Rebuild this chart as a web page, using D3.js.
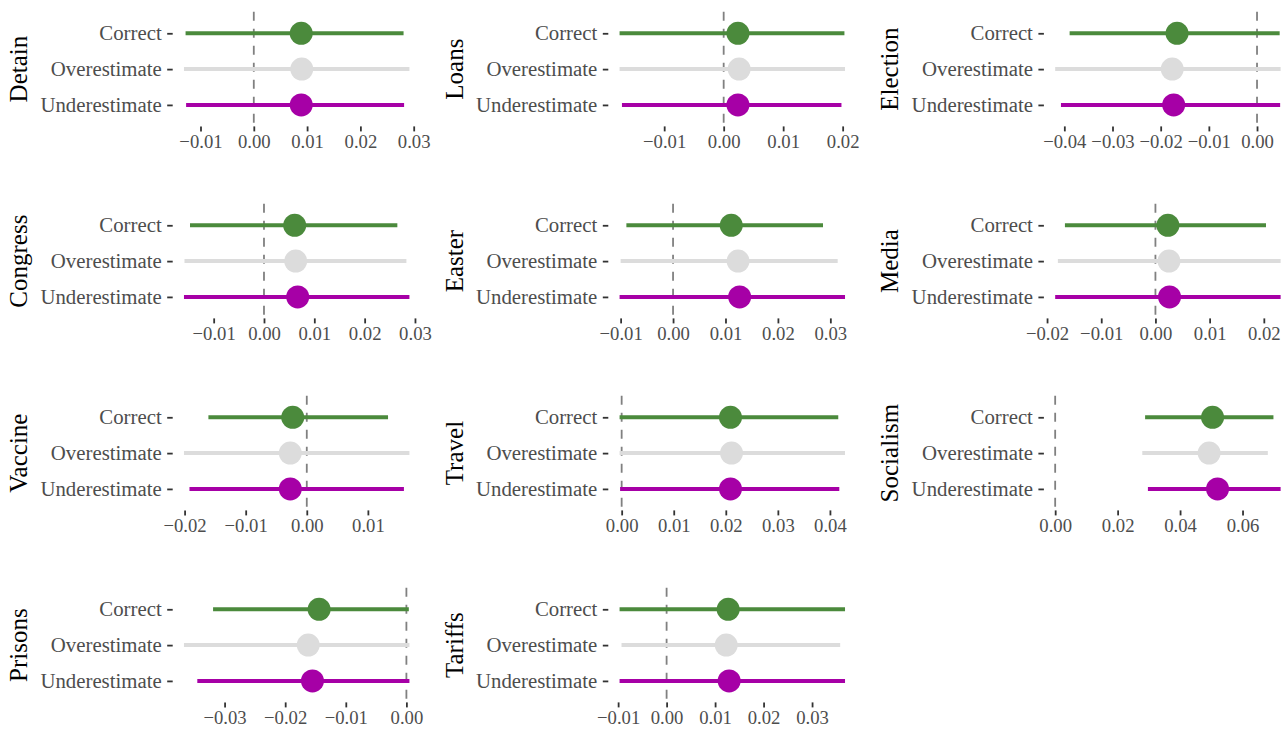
<!DOCTYPE html>
<html>
<head>
<meta charset="utf-8">
<script src="https://cdn.jsdelivr.net/npm/d3@7"></script>
<style>
  html, body { margin: 0; padding: 0; background: #ffffff; }
  svg { display: block; }
  svg text { font-family: "Liberation Serif", "Times New Roman", serif !important; }
</style>
</head>
<body>
<svg id="chart" width="1288" height="735"></svg>
<script>
// Topics, one panel each, filled row by row in a 3-column grid
const topics = ["Detain", "Loans", "Election", "Congress", "Easter", "Media",
                "Vaccine", "Travel", "Socialism", "Prisons", "Tariffs"];
const levels = ["Correct", "Overestimate", "Underestimate"];

// Point estimates and interval bounds per topic (same order as topics)
const correctEst = [0.0089, 0.0024, -0.0166, 0.0061, 0.0111, 0.0023, -0.0023, 0.0209, 0.0504, -0.0144, 0.0127];
const correctLo  = [-0.0128, -0.0175, -0.0389, -0.0147, -0.0089, -0.0167, -0.0161, -0.0004, 0.0288, -0.0319, -0.0097];
const correctHi  = [0.0281, 0.0203, 0.0047, 0.0265, 0.0286, 0.0204, 0.0133, 0.0416, 0.0699, 0.0004, 0.0368];

const overEst = [0.0090, 0.0026, -0.0176, 0.0063, 0.0124, 0.0025, -0.0027, 0.0211, 0.0493, -0.0162, 0.0123];
const overLo  = [-0.0131, -0.0175, -0.0419, -0.0158, -0.0100, -0.0180, -0.0201, -0.0004, 0.0279, -0.0367, -0.0093];
const overHi  = [0.0292, 0.0204, 0.0049, 0.0283, 0.0314, 0.0231, 0.0168, 0.0429, 0.0681, 0.0005, 0.0358];

const underEst = [0.0089, 0.0024, -0.0173, 0.0067, 0.0127, 0.0026, -0.0027, 0.0209, 0.0520, -0.0155, 0.0129];
const underLo  = [-0.0127, -0.0171, -0.0407, -0.0159, -0.0102, -0.0185, -0.0192, -0.0003, 0.0297, -0.0345, -0.0097];
const underHi  = [0.0282, 0.0198, 0.0048, 0.0289, 0.0328, 0.0231, 0.0159, 0.0418, 0.0722, 0.0005, 0.0368];

// Axis tick values per panel
const xTicks = [
  [-0.01, 0, 0.01, 0.02, 0.03],
  [-0.01, 0, 0.01, 0.02],
  [-0.04, -0.03, -0.02, -0.01, 0],
  [-0.01, 0, 0.01, 0.02, 0.03],
  [-0.01, 0, 0.01, 0.02, 0.03],
  [-0.02, -0.01, 0, 0.01, 0.02],
  [-0.02, -0.01, 0, 0.01],
  [0, 0.01, 0.02, 0.03, 0.04],
  [0, 0.02, 0.04, 0.06],
  [-0.03, -0.02, -0.01, 0],
  [-0.01, 0, 0.01, 0.02, 0.03]
];

const levelColor = d3.scaleOrdinal()
  .domain(levels)
  .range(["#4b8a3c", "#dcdcdc", "#a600a6"]);

const serif = "Liberation Serif";

// Grid geometry
const nCols = 3;
const panelW = 248, panelH = 114.6;
const col0 = 172.7, colPitch = 435.6;
const row0 = 11.8, rowPitch = 192;

const svg = d3.select("#chart");

topics.forEach((topic, i) => {
  const col = i % nCols, row = Math.floor(i / nCols);
  const left = col0 + col * colPitch;
  const top = row0 + row * rowPitch;

  const rows = [
    { level: "Correct",       est: correctEst[i], lo: correctLo[i], hi: correctHi[i] },
    { level: "Overestimate",  est: overEst[i],    lo: overLo[i],    hi: overHi[i] },
    { level: "Underestimate", est: underEst[i],   lo: underLo[i],   hi: underHi[i] }
  ];

  // Domain covers all intervals and the zero reference, padded 5% each side
  const lo = d3.min(rows, d => d.lo), hi = d3.max(rows, d => d.hi);
  const dmin = Math.min(lo, 0), dmax = Math.max(hi, 0);
  const pad = (dmax - dmin) * 0.05;

  const x = d3.scaleLinear().domain([dmin - pad, dmax + pad]).range([0, panelW]);
  const y = d3.scalePoint().domain(levels).range([0, panelH]).padding(0.6);

  const g = svg.append("g").attr("transform", `translate(${left},${top})`);

  // zero reference
  g.append("line")
    .attr("x1", x(0)).attr("x2", x(0))
    .attr("y1", 0).attr("y2", panelH)
    .attr("stroke", "#808080")
    .attr("stroke-width", 1.8)
    .attr("stroke-dasharray", "9,8");

  // intervals
  g.selectAll("line.ci").data(rows).join("line")
    .attr("class", "ci")
    .attr("x1", d => x(d.lo)).attr("x2", d => x(d.hi))
    .attr("y1", d => y(d.level)).attr("y2", d => y(d.level))
    .attr("stroke", d => levelColor(d.level))
    .attr("stroke-width", 4);

  // estimates
  g.selectAll("circle.est").data(rows).join("circle")
    .attr("class", "est")
    .attr("cx", d => x(d.est)).attr("cy", d => y(d.level))
    .attr("r", 11.5)
    .attr("fill", d => levelColor(d.level));

  // x axis
  const xa = g.append("g")
    .attr("transform", `translate(0,${panelH})`)
    .call(d3.axisBottom(x).tickValues(xTicks[i]).tickSize(5).tickPadding(3)
      .tickFormat(d3.format(".2f")));
  xa.select(".domain").remove();
  xa.selectAll(".tick line").attr("stroke", "#333333").attr("stroke-width", 1.8);
  xa.selectAll(".tick text")
    .attr("fill", "#4d4d4d")
    .style("font-family", serif)
    .style("font-size", "18.7px");

  // y axis
  const ya = g.append("g")
    .call(d3.axisLeft(y).tickSize(5.5).tickPadding(5.5));
  ya.select(".domain").remove();
  ya.selectAll(".tick line").attr("stroke", "#333333").attr("stroke-width", 1.8);
  ya.selectAll(".tick text")
    .attr("fill", "#4d4d4d")
    .style("font-family", serif)
    .style("font-size", "20.8px");

  // panel title, rotated on the left
  g.append("text")
    .attr("transform", `translate(${-145.8},${panelH / 2}) rotate(-90)`)
    .attr("text-anchor", "middle")
    .style("font-family", serif)
    .style("font-size", "25px")
    .attr("fill", "#000000")
    .text(topic);
});
</script>
</body>
</html>
